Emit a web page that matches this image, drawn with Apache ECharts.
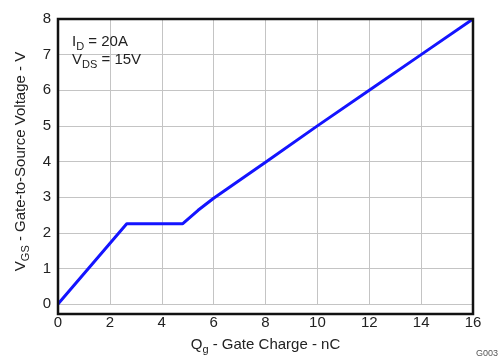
<!DOCTYPE html>
<html>
<head>
<meta charset="utf-8">
<script src="https://cdn.jsdelivr.net/npm/echarts@6/dist/echarts.min.js"></script>
<style>html,body{margin:0;padding:0;background:#fff}#c{width:504px;height:360px}</style>
</head>
<body>
<div id="c"></div>
<script>
var qg = [0, 2.65, 4.8, 5.4, 6, 8, 10, 12, 14, 16];
var vgs = [0, 2.25, 2.25, 2.63, 2.97, 3.98, 5, 6, 7, 8];
var xTicks = [0, 2, 4, 6, 8, 10, 12, 14, 16];
var yTicks = [0, 1, 2, 3, 4, 5, 6, 7, 8];

var chart = echarts.init(document.getElementById('c'));
var font = 'Liberation Sans, Arial, sans-serif';
var richA = {fontSize: 15, fontFamily: font, color: '#222', lineHeight: 18, verticalAlign: 'bottom'};
var richS = {fontSize: 11, fontFamily: font, color: '#222', lineHeight: 14, verticalAlign: 'bottom', padding: [0,0,-3,0]};
chart.setOption({
  animation: false,
  grid: {left: 58, right: 31, top: 19, bottom: 46},
  xAxis: {
    type: 'value', min: 0, max: 16, interval: 2,
    axisLine: {show: false},
    axisTick: {show: false},
    splitLine: {lineStyle: {color: '#c4c4c4', width: 1}},
    axisLabel: {color: '#222', fontSize: 15, fontFamily: font, margin: 11},
    name: '{a|Q}{s|g}{a| - Gate Charge - nC}',
    nameLocation: 'middle', nameGap: 30,
    nameTextStyle: {rich: {a: richA, s: richS}}
  },
  yAxis: {
    type: 'value', min: 0, max: 8, interval: 1,
    axisLine: {show: false},
    axisTick: {show: false},
    splitLine: {lineStyle: {color: '#c4c4c4', width: 1}},
    axisLabel: {color: '#222', fontSize: 15, fontFamily: font, margin: 7},
    name: '{a|V}{s|GS}{a| - Gate-to-Source Voltage - V}',
    nameLocation: 'middle', nameGap: 28,
    nameTextStyle: {rich: {a: richA, s: richS}}
  },
  series: [{
    type: 'line',
    data: qg.map(function (x, i) { return [x, vgs[i]]; }),
    symbol: 'none',
    lineStyle: {color: '#1414ff', width: 3},
    z: 3
  }],
  graphic: [
    {type: 'rect', shape: {x: 58, y: 19, width: 415, height: 295}, style: {fill: 'none', stroke: '#111', lineWidth: 2.5}, z: 10, silent: true},
    {type: 'text', left: 72, top: 34, style: {text: '{a|I}{s|D}{a| = 20A}', rich: {
      a: {fontSize: 15, fontFamily: font, fill: '#222', lineHeight: 18, verticalAlign: 'bottom'},
      s: {fontSize: 11, fontFamily: font, fill: '#222', lineHeight: 14, verticalAlign: 'bottom', padding: [0,0,-3,0]}}}, z: 11},
    {type: 'text', left: 72, top: 52, style: {text: '{a|V}{s|DS}{a| = 15V}', rich: {
      a: {fontSize: 15, fontFamily: font, fill: '#222', lineHeight: 18, verticalAlign: 'bottom'},
      s: {fontSize: 11, fontFamily: font, fill: '#222', lineHeight: 14, verticalAlign: 'bottom', padding: [0,0,-3,0]}}}, z: 11},
    {type: 'text', left: 476, top: 349, style: {text: 'G003', fontSize: 9, fontFamily: font, fill: '#555'}, z: 11}
  ]
});
</script>
</body>
</html>
